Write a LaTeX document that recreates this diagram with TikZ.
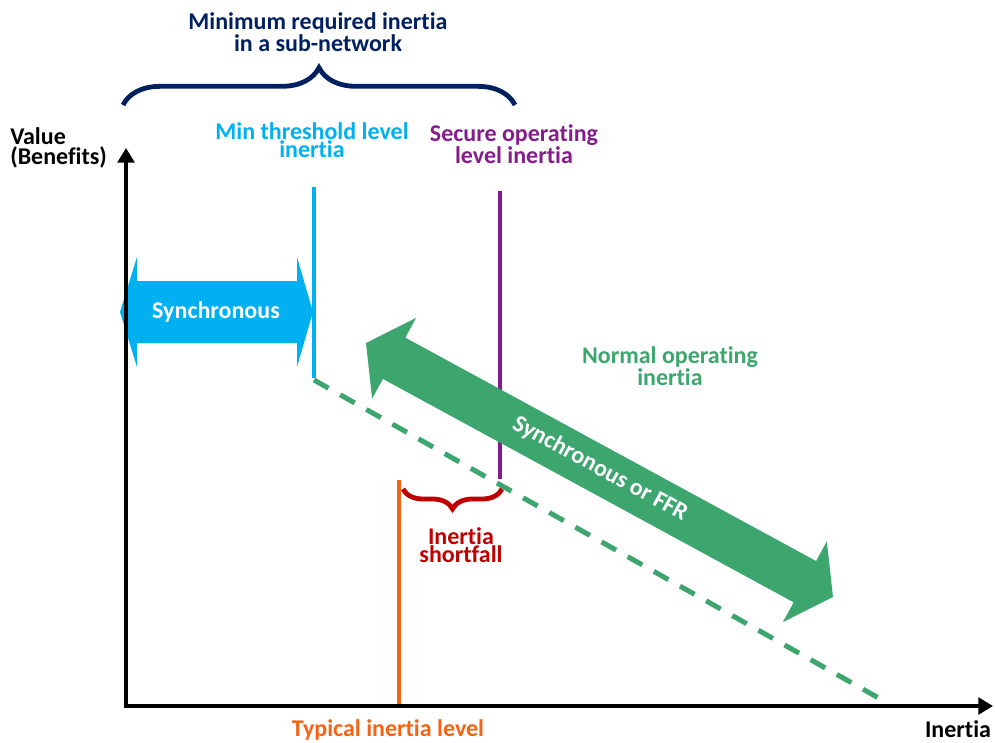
\documentclass[tikz,border=0pt]{standalone}
\usepackage{fontspec}
\setmainfont{Carlito}[Ligatures=NoCommon]
\usetikzlibrary{arrows.meta,decorations.pathreplacing}
\definecolor{navyc}{RGB}{0,32,96}
\definecolor{cyanc}{RGB}{0,176,240}
\definecolor{purplec}{RGB}{132,28,140}
\definecolor{greenc}{RGB}{60,166,110}
\definecolor{orangec}{RGB}{245,100,20}
\definecolor{redc}{RGB}{192,0,0}
\begin{document}
\begin{tikzpicture}[x=0.75pt,y=-0.75pt,
	every node/.style={font=\bfseries\fontsize{18}{13}\selectfont,inner sep=0pt,align=center},
	axis/.style={line width=3pt,{Triangle[length=11pt,width=12.5pt]}-{Triangle[length=11pt,width=12.5pt]}},
	level/.style={line width=3.5pt},
	curly/.style={line width=3.6pt,decorate,decoration={brace,amplitude=#1}},
	trend/.style={greenc,line width=3.75pt,dash pattern=on 12.5pt off 10pt}]
	\useasboundingbox (0,0) rectangle (995,742);
	\coordinate (ytop) at (126,148);
	\coordinate (o) at (126,706);
	\coordinate (xend) at (993,706);
	\coordinate (bl) at (123,105);
	\coordinate (br) at (515,105);
	\coordinate (mintop) at (314,187);
	\coordinate (minbot) at (314,378);
	\coordinate (sectop) at (500,191);
	\coordinate (secbot) at (500,479);
	\coordinate (typtop) at (399,480);
	\coordinate (typbot) at (399,706);
	\coordinate (sl) at (502,489);
	\coordinate (sr) at (403,489);
	\coordinate (trendbeg) at (314,380);
	\coordinate (trendend) at (884,701);
	\draw[navyc,curly=28pt] (bl) -- (br);
	\draw[level,cyanc] (mintop) -- (minbot);
	\draw[level,purplec] (sectop) -- (secbot);
	\draw[level,orangec] (typtop) -- (typbot);
	\draw[trend] (trendbeg) -- (trendend);
	\draw[redc,curly=15pt] (sl) -- (sr);
	\fill[cyanc] (120,312) -- (137,257) -- (137,281) -- (297,281) -- (297,257) -- (313,312)
		-- (297,367) -- (297,343) -- (137,343) -- (137,367) -- cycle;
	\begin{scope}[shift={(366,343)},rotate=-28.54]
		\fill[greenc] (0,0) -- (32,-46) -- (32,-23.5) -- (499.6,-23.5) -- (499.6,-46) -- (531.6,0)
			-- (499.6,46) -- (499.6,23.5) -- (32,23.5) -- (32,46) -- cycle;
	\end{scope}
	\draw[axis] (ytop) -- (o) -- (xend);
	\node[navyc] (title) at (318,32) {Minimum required inertia\\in a sub-network};
	\node[anchor=west,align=left] (ylbl) at (10,148) {Value\\(Benefits)};
	\node[cyanc] (minlbl) at (312,140) {Min threshold level\\inertia};
	\node[purplec] (seclbl) at (514,144) {Secure operating\\level inertia};
	\node[greenc] (normlbl) at (670,366) {Normal operating\\inertia};
	\node[redc] (shortlbl) at (461,545) {Inertia\\shortfall};
	\node[orangec] (typlbl) at (388,730) {Typical inertia level};
	\node (xlbl) at (958,729) {Inertia};
	\node[white] (synclbl) at (216,312) {Synchronous};
	\node[white,rotate=-28.54] (ffrlbl) at (600,469) {Synchronous or FFR};
\end{tikzpicture}
\end{document}
